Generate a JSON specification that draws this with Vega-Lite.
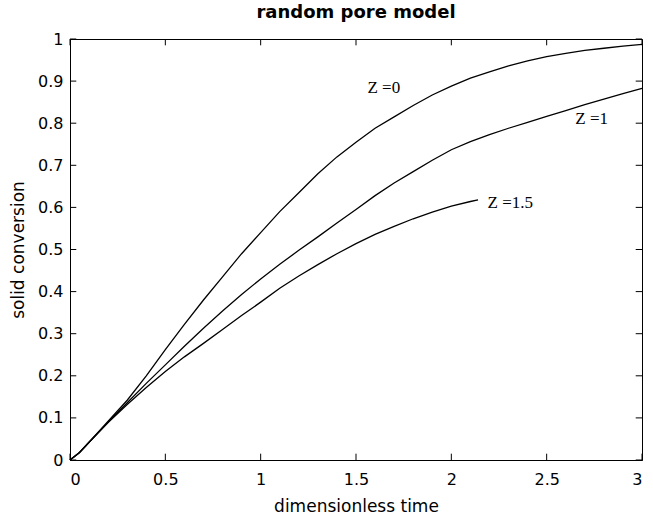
{
  "$schema": "https://vega.github.io/schema/vega-lite/v6.json",
  "width": 572,
  "height": 421,
  "autosize": "none",
  "padding": {"left": 70, "top": 39, "right": 11, "bottom": 57},
  "background": "white",
  "title": {"text": "random pore model", "font": "DejaVu Sans", "fontSize": 18, "fontWeight": "bold", "color": "black", "offset": 9},
  "config": {
    "view": {"stroke": "black", "strokeWidth": 1},
    "axis": {"grid": false, "domainColor": "black", "ticks": false, "labelColor": "black", "titleColor": "black", "labelFont": "DejaVu Sans", "titleFont": "DejaVu Sans", "labelFontSize": 16, "titleFontSize": 17, "titleFontWeight": "normal", "format": "~g"}
  },
  "datasets": {
    "curves": [
      {"t": 0, "X": 0, "Z": "0"}, {"t": 0.05, "X": 0.018, "Z": "0"}, {"t": 0.1, "X": 0.042, "Z": "0"}, {"t": 0.2, "X": 0.092, "Z": "0"}, {"t": 0.3, "X": 0.142, "Z": "0"}, {"t": 0.4, "X": 0.2, "Z": "0"}, {"t": 0.5, "X": 0.262, "Z": "0"}, {"t": 0.6, "X": 0.322, "Z": "0"}, {"t": 0.7, "X": 0.38, "Z": "0"}, {"t": 0.8, "X": 0.435, "Z": "0"}, {"t": 0.9, "X": 0.49, "Z": "0"}, {"t": 1.0, "X": 0.54, "Z": "0"}, {"t": 1.1, "X": 0.59, "Z": "0"}, {"t": 1.2, "X": 0.635, "Z": "0"}, {"t": 1.3, "X": 0.68, "Z": "0"}, {"t": 1.4, "X": 0.72, "Z": "0"}, {"t": 1.5, "X": 0.755, "Z": "0"}, {"t": 1.6, "X": 0.788, "Z": "0"}, {"t": 1.7, "X": 0.815, "Z": "0"}, {"t": 1.8, "X": 0.842, "Z": "0"}, {"t": 1.9, "X": 0.867, "Z": "0"}, {"t": 2.0, "X": 0.888, "Z": "0"}, {"t": 2.1, "X": 0.907, "Z": "0"}, {"t": 2.2, "X": 0.922, "Z": "0"}, {"t": 2.3, "X": 0.936, "Z": "0"}, {"t": 2.4, "X": 0.948, "Z": "0"}, {"t": 2.5, "X": 0.958, "Z": "0"}, {"t": 2.6, "X": 0.966, "Z": "0"}, {"t": 2.7, "X": 0.973, "Z": "0"}, {"t": 2.8, "X": 0.978, "Z": "0"}, {"t": 2.9, "X": 0.983, "Z": "0"}, {"t": 3.0, "X": 0.987, "Z": "0"},
      {"t": 0, "X": 0, "Z": "1"}, {"t": 0.05, "X": 0.018, "Z": "1"}, {"t": 0.1, "X": 0.042, "Z": "1"}, {"t": 0.2, "X": 0.09, "Z": "1"}, {"t": 0.3, "X": 0.136, "Z": "1"}, {"t": 0.4, "X": 0.182, "Z": "1"}, {"t": 0.5, "X": 0.226, "Z": "1"}, {"t": 0.6, "X": 0.27, "Z": "1"}, {"t": 0.7, "X": 0.313, "Z": "1"}, {"t": 0.8, "X": 0.354, "Z": "1"}, {"t": 0.9, "X": 0.393, "Z": "1"}, {"t": 1.0, "X": 0.43, "Z": "1"}, {"t": 1.1, "X": 0.465, "Z": "1"}, {"t": 1.2, "X": 0.498, "Z": "1"}, {"t": 1.3, "X": 0.53, "Z": "1"}, {"t": 1.4, "X": 0.563, "Z": "1"}, {"t": 1.5, "X": 0.595, "Z": "1"}, {"t": 1.6, "X": 0.628, "Z": "1"}, {"t": 1.7, "X": 0.658, "Z": "1"}, {"t": 1.8, "X": 0.685, "Z": "1"}, {"t": 1.9, "X": 0.712, "Z": "1"}, {"t": 2.0, "X": 0.737, "Z": "1"}, {"t": 2.1, "X": 0.756, "Z": "1"}, {"t": 2.2, "X": 0.773, "Z": "1"}, {"t": 2.3, "X": 0.788, "Z": "1"}, {"t": 2.4, "X": 0.802, "Z": "1"}, {"t": 2.5, "X": 0.816, "Z": "1"}, {"t": 2.6, "X": 0.83, "Z": "1"}, {"t": 2.7, "X": 0.844, "Z": "1"}, {"t": 2.8, "X": 0.857, "Z": "1"}, {"t": 2.9, "X": 0.87, "Z": "1"}, {"t": 3.0, "X": 0.883, "Z": "1"},
      {"t": 0, "X": 0, "Z": "1.5"}, {"t": 0.05, "X": 0.018, "Z": "1.5"}, {"t": 0.1, "X": 0.042, "Z": "1.5"}, {"t": 0.2, "X": 0.089, "Z": "1.5"}, {"t": 0.3, "X": 0.132, "Z": "1.5"}, {"t": 0.4, "X": 0.172, "Z": "1.5"}, {"t": 0.5, "X": 0.21, "Z": "1.5"}, {"t": 0.6, "X": 0.245, "Z": "1.5"}, {"t": 0.7, "X": 0.277, "Z": "1.5"}, {"t": 0.8, "X": 0.31, "Z": "1.5"}, {"t": 0.9, "X": 0.343, "Z": "1.5"}, {"t": 1.0, "X": 0.375, "Z": "1.5"}, {"t": 1.1, "X": 0.408, "Z": "1.5"}, {"t": 1.2, "X": 0.437, "Z": "1.5"}, {"t": 1.3, "X": 0.464, "Z": "1.5"}, {"t": 1.4, "X": 0.49, "Z": "1.5"}, {"t": 1.5, "X": 0.514, "Z": "1.5"}, {"t": 1.6, "X": 0.536, "Z": "1.5"}, {"t": 1.7, "X": 0.555, "Z": "1.5"}, {"t": 1.8, "X": 0.573, "Z": "1.5"}, {"t": 1.9, "X": 0.589, "Z": "1.5"}, {"t": 2.0, "X": 0.603, "Z": "1.5"}, {"t": 2.1, "X": 0.614, "Z": "1.5"}, {"t": 2.14, "X": 0.618, "Z": "1.5"}
    ],
    "labels": [
      {"t": 1.56, "X": 0.884, "text": "Z =0"},
      {"t": 2.65, "X": 0.81, "text": "Z =1"},
      {"t": 2.19, "X": 0.611, "text": "Z =1.5"}
    ],
    "xticks": [{"v": 0}, {"v": 0.5}, {"v": 1}, {"v": 1.5}, {"v": 2}, {"v": 2.5}, {"v": 3}],
    "yticks": [{"v": 0}, {"v": 0.1}, {"v": 0.2}, {"v": 0.3}, {"v": 0.4}, {"v": 0.5}, {"v": 0.6}, {"v": 0.7}, {"v": 0.8}, {"v": 0.9}, {"v": 1}]
  },
  "layer": [
    {
      "data": {"name": "curves"},
      "mark": {"type": "line", "color": "black", "strokeWidth": 1.3},
      "encoding": {
        "x": {"field": "t", "type": "quantitative", "scale": {"domain": [0, 3], "nice": false}, "axis": {"title": "dimensionless time", "values": [0, 0.5, 1, 1.5, 2, 2.5, 3], "labelPadding": 11, "titlePadding": 11}},
        "y": {"field": "X", "type": "quantitative", "scale": {"domain": [0, 1], "nice": false}, "axis": {"title": "solid conversion", "values": [0, 0.1, 0.2, 0.3, 0.4, 0.5, 0.6, 0.7, 0.8, 0.9, 1], "labelPadding": 7, "titlePadding": 10}},
        "detail": {"field": "Z", "type": "nominal"}
      }
    },
    {
      "data": {"name": "labels"},
      "mark": {"type": "text", "align": "left", "baseline": "middle", "font": "Liberation Serif", "fontSize": 17, "color": "black"},
      "encoding": {
        "x": {"field": "t", "type": "quantitative", "axis": null},
        "y": {"field": "X", "type": "quantitative", "axis": null},
        "text": {"field": "text"}
      }
    },
    {
      "data": {"name": "xticks"},
      "mark": {"type": "rule", "color": "black", "strokeWidth": 1},
      "encoding": {
        "x": {"field": "v", "type": "quantitative", "axis": null},
        "y": {"datum": 0, "type": "quantitative", "axis": null},
        "y2": {"datum": 0.015}
      }
    },
    {
      "data": {"name": "xticks"},
      "mark": {"type": "rule", "color": "black", "strokeWidth": 1},
      "encoding": {
        "x": {"field": "v", "type": "quantitative", "axis": null},
        "y": {"datum": 1, "type": "quantitative", "axis": null},
        "y2": {"datum": 0.985}
      }
    },
    {
      "data": {"name": "yticks"},
      "mark": {"type": "rule", "color": "black", "strokeWidth": 1},
      "encoding": {
        "y": {"field": "v", "type": "quantitative", "axis": null},
        "x": {"datum": 0, "type": "quantitative", "axis": null},
        "x2": {"datum": 0.033}
      }
    },
    {
      "data": {"name": "yticks"},
      "mark": {"type": "rule", "color": "black", "strokeWidth": 1},
      "encoding": {
        "y": {"field": "v", "type": "quantitative", "axis": null},
        "x": {"datum": 3, "type": "quantitative", "axis": null},
        "x2": {"datum": 2.967}
      }
    }
  ],
  "resolve": {"axis": {"x": "independent", "y": "independent"}}
}
